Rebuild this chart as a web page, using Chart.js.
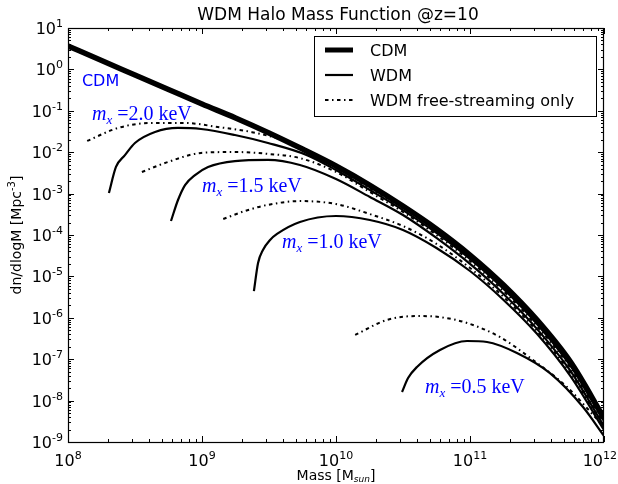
<!DOCTYPE html>
<html>
<head>
<meta charset="utf-8">
<script src="https://cdn.jsdelivr.net/npm/chart.js@4.4.0/dist/chart.umd.min.js"></script>
<style>
  html, body { margin: 0; padding: 0; background: #fff; }
  #wrap { width: 618px; height: 484px; }
</style>
</head>
<body>
<div id="wrap"><canvas id="hmf"></canvas></div>
<script>
// halo mass function values (mass in Msun, dn/dlogM in Mpc^-3)
const massCDM = [1e8, 1.78e8, 3.16e8, 5.62e8, 1e9, 1.78e9, 3.16e9, 5.62e9, 1e10, 1.78e10, 3.16e10, 5.62e10, 1e11, 1.78e11, 3.16e11, 5.62e11, 1e12];
const cdm = [3.67, 1.64, 0.733, 0.327, 0.146, 0.067, 0.0291, 0.0119, 4.65e-3, 1.61e-3, 5.0e-4, 1.40e-4, 3.29e-5, 6.2e-6, 8.9e-7, 8.6e-8, 3.8e-9];

const mass20 = [2.02e8, 2.28e8, 2.66e8, 3.16e8, 4.46e8, 6.62e8, 9.84e8, 1.76e9, 3.11e9, 6.08e9, 1e10, 1.79e10, 3.16e10, 5.62e10, 1e11, 1.78e11, 3.16e11, 5.62e11, 1e12];
const wdm20 = [1.03e-3, 4.4e-3, 8.5e-3, 0.0167, 0.0308, 0.0385, 0.0363, 0.026, 0.0167, 8.5e-3, 3.7e-3, 1.22e-3, 4.0e-4, 1.12e-4, 2.63e-5, 4.97e-6, 7.1e-7, 6.9e-8, 3.2e-9];
const massFs20 = [1.39e8, 2.36e8, 4.16e8, 7.5e8, 1.31e9, 2.32e9, 4.16e9, 6.08e9, 1e10, 1.79e10, 3.16e10, 5.62e10, 1e11, 1.78e11, 3.16e11, 5.62e11, 1e12];
const fs20 = [0.0187, 0.0385, 0.0507, 0.0507, 0.0407, 0.0308, 0.0187, 0.0101, 4.15e-3, 1.36e-3, 4.5e-4, 1.25e-4, 2.94e-5, 5.5e-6, 7.9e-7, 7.7e-8, 3.6e-9];

const mass15 = [5.87e8, 6.62e8, 7.47e8, 8.87e8, 1.11e9, 1.76e9, 3.11e9, 5.38e9, 1e10, 1.79e10, 3.16e10, 5.62e10, 1e11, 1.78e11, 3.16e11, 5.62e11, 1e12];
const wdm15 = [2.18e-4, 7.0e-4, 1.61e-3, 2.81e-3, 4.4e-3, 6.1e-3, 6.5e-3, 4.9e-3, 2.25e-3, 8.3e-4, 3.04e-4, 8.5e-5, 2.0e-5, 3.76e-6, 5.4e-7, 5.2e-8, 2.4e-9];
const massFs15 = [3.56e8, 5.57e8, 9.84e8, 1.76e9, 3.11e9, 5.38e9, 1e10, 1.79e10, 3.16e10, 5.62e10, 1e11, 1.78e11, 3.16e11, 5.62e11, 1e12];
const fs15 = [3.33e-3, 5.8e-3, 9.6e-3, 0.0101, 9.1e-3, 7.2e-3, 3.33e-3, 1.09e-3, 3.6e-4, 1.0e-4, 2.35e-5, 4.4e-6, 6.3e-7, 6.1e-8, 2.7e-9];

const mass10 = [2.44e9, 2.62e9, 2.85e9, 3.22e9, 3.63e9, 5.38e9, 1e10, 1.79e10, 3.16e10, 5.62e10, 1e11, 1.78e11, 3.16e11, 5.62e11, 1e12];
const wdm10 = [4.4e-6, 2.11e-5, 4.35e-5, 7.6e-5, 1.06e-4, 2.06e-4, 2.88e-4, 2.3e-4, 1.32e-4, 4.85e-5, 1.35e-5, 2.7e-6, 4.1e-7, 3.9e-8, 1.95e-9];
const massFs10 = [1.44e9, 2.09e9, 3.06e9, 5.38e9, 1e10, 1.79e10, 3.16e10, 5.62e10, 1e11, 1.78e11, 3.16e11, 5.62e11, 1e12];
const fs10 = [2.43e-4, 3.8e-4, 5.3e-4, 6.6e-4, 5.6e-4, 3.2e-4, 1.65e-4, 6.1e-5, 1.6e-5, 3.2e-6, 4.8e-7, 4.6e-8, 2.2e-9];

const mass05 = [3.11e10, 3.45e10, 4.02e10, 5.97e10, 9.5e10, 1.34e11, 2.24e11, 3.95e11, 6.97e11, 1e12];
const wdm05 = [1.61e-8, 3.5e-8, 6.5e-8, 1.67e-7, 2.75e-7, 2.6e-7, 1.41e-7, 4.6e-8, 7.0e-9, 1.4e-9];
const massFs05 = [1.39e10, 2.4e10, 4.02e10, 5.97e10, 9.5e10, 1.68e11, 2.95e11, 5.3e11, 8.3e11, 1e12];
const fs05 = [3.85e-7, 8.9e-7, 1.1e-6, 1.04e-6, 7.5e-7, 3.4e-7, 9.6e-8, 2.13e-8, 4.5e-9, 2.3e-9];

// tick labels: base "10" with these exponents
const xTicks = [1e8, 1e9, 1e10, 1e11, 1e12];
const xTickExp = ['8', '9', '10', '11', '12'];
const yTicks = [1e-9, 1e-8, 1e-7, 1e-6, 1e-5, 1e-4, 1e-3, 1e-2, 1e-1, 1e0, 1e1];
const yTickExp = ['-9', '-8', '-7', '-6', '-5', '-4', '-3', '-2', '-1', '0', '1'];

const legendNames = ['CDM', 'WDM', 'WDM free-streaming only'];
const massLabels = ['2.0', '1.5', '1.0', '0.5'];

const SANS = '"DejaVu Sans", sans-serif';
const DASH = [3.5, 3.5, 1.5, 3.5];

const pts = (xs, ys) => xs.map((m, i) => ({ x: m, y: ys[i] }));

function curve(xs, ys, width, dash) {
  return {
    data: pts(xs, ys),
    showLine: true,
    borderColor: '#000',
    borderWidth: width,
    borderDash: dash || [],
    pointRadius: 0,
    cubicInterpolationMode: 'monotone',
  };
}

// text labels placed in data coordinates: [mass, dn/dlogM]
const labelSpots = [[1.51e8, 0.060], [1e9, 1.09e-3], [3.95e9, 4.85e-5], [4.61e10, 1.53e-8]];
const cdmSpot = [1.27e8, 0.397];

function drawMx(ctx, keV, px, py) {
  ctx.fillStyle = '#0000ff';
  ctx.textAlign = 'left';
  ctx.textBaseline = 'alphabetic';
  ctx.font = 'italic 20px "Liberation Serif", serif';
  ctx.fillText('m', px, py);
  let w = ctx.measureText('m').width;
  ctx.font = 'italic 13px "Liberation Serif", serif';
  ctx.fillText('x', px + w, py + 4);
  w += ctx.measureText('x').width + 5;
  ctx.font = '20px "Liberation Serif", serif';
  ctx.fillText('=' + keV + ' keV', px + w, py);
}

function powerLabel(ctx, exp, cx, baseY, align) {
  ctx.font = '16px ' + SANS;
  const wb = ctx.measureText('10').width;
  ctx.font = '11px ' + SANS;
  const we = ctx.measureText(exp).width;
  const tw = wb + we;
  let left = align === 'right' ? cx - tw : cx - tw / 2;
  if (left + tw > 617) left = 617 - tw;
  ctx.font = '16px ' + SANS;
  ctx.fillText('10', left, baseY);
  ctx.font = '11px ' + SANS;
  ctx.fillText(exp, left + wb, baseY - 7);
}

const decor = {
  id: 'decor',
  afterDatasetsDraw(chart) {
    const { ctx, chartArea: a, scales: { x, y } } = chart;
    ctx.save();
    ctx.strokeStyle = '#000';
    ctx.lineWidth = 1;
    ctx.setLineDash([]);
    ctx.beginPath();
    // inward ticks on all four sides
    for (let d = 8; d <= 12; d++) {
      for (let k = 1; k <= 9; k++) {
        const v = k * Math.pow(10, d);
        if (v > 1e12 * 1.001) continue;
        const p = Math.round(x.getPixelForValue(v)) + 0.5;
        const len = k === 1 ? 6 : 3;
        ctx.moveTo(p, a.bottom); ctx.lineTo(p, a.bottom - len);
        ctx.moveTo(p, a.top); ctx.lineTo(p, a.top + len);
      }
    }
    for (let d = -9; d <= 1; d++) {
      for (let k = 1; k <= 9; k++) {
        const v = k * Math.pow(10, d);
        if (v > 10 * 1.001) continue;
        const p = Math.round(y.getPixelForValue(v)) + 0.5;
        const len = k === 1 ? 6 : 3;
        ctx.moveTo(a.left, p); ctx.lineTo(a.left + len, p);
        ctx.moveTo(a.right, p); ctx.lineTo(a.right - len, p);
      }
    }
    ctx.stroke();
    ctx.lineWidth = 1.2;
    ctx.strokeRect(Math.round(a.left) + 0.5, Math.round(a.top) + 0.5,
      Math.round(a.right - a.left) - 1, Math.round(a.bottom - a.top));

    // tick labels
    ctx.fillStyle = '#000';
    ctx.textBaseline = 'alphabetic';
    ctx.textAlign = 'left';
    xTicks.forEach((v, i) => powerLabel(ctx, xTickExp[i], x.getPixelForValue(v), a.bottom + 24, 'center'));
    yTicks.forEach((v, i) => powerLabel(ctx, yTickExp[i], a.left - 5, y.getPixelForValue(v) + 6, 'right'));

    // annotations
    ctx.fillStyle = '#0000ff';
    ctx.font = '16px ' + SANS;
    ctx.fillText('CDM', x.getPixelForValue(cdmSpot[0]), y.getPixelForValue(cdmSpot[1]));
    labelSpots.forEach((s, i) => {
      drawMx(ctx, massLabels[i], x.getPixelForValue(s[0]), y.getPixelForValue(s[1]));
    });

    // legend box
    const lx = 314, ly = 36, lw = 282, lh = 80;
    ctx.fillStyle = '#fff';
    ctx.fillRect(lx, ly, lw, lh);
    ctx.strokeStyle = '#000';
    ctx.lineWidth = 1;
    ctx.strokeRect(lx + 0.5, ly + 0.5, lw, lh);
    const widths = [5, 2.2, 2];
    const dashes = [[], [], DASH];
    legendNames.forEach((name, i) => {
      const yy = ly + 14 + i * 25;
      ctx.beginPath();
      ctx.lineWidth = widths[i];
      ctx.setLineDash(dashes[i]);
      ctx.moveTo(325, yy);
      ctx.lineTo(353, yy);
      ctx.stroke();
      ctx.setLineDash([]);
      ctx.fillStyle = '#000';
      ctx.font = '16px ' + SANS;
      ctx.fillText(name, 370, yy + 6);
    });

    // title and axis titles
    ctx.fillStyle = '#000';
    ctx.font = '17px ' + SANS;
    ctx.textAlign = 'center';
    ctx.fillText('WDM Halo Mass Function @z=10', 338, 20);

    ctx.textAlign = 'left';
    const t1 = 'Mass [M', t2 = 'sun', t3 = ']';
    ctx.font = '14px ' + SANS;
    const w1 = ctx.measureText(t1).width;
    ctx.font = 'italic 9px ' + SANS;
    const w2 = ctx.measureText(t2).width;
    ctx.font = '14px ' + SANS;
    const w3 = ctx.measureText(t3).width;
    let sx = 336 - (w1 + w2 + w3) / 2;
    ctx.fillText(t1, sx, 480);
    ctx.font = 'italic 9px ' + SANS;
    ctx.fillText(t2, sx + w1, 482);
    ctx.font = '14px ' + SANS;
    ctx.fillText(t3, sx + w1 + w2, 480);

    ctx.translate(21, 235);
    ctx.rotate(-Math.PI / 2);
    const u1 = 'dn/dlogM [Mpc', u2 = '-3', u3 = ']';
    ctx.font = '14px ' + SANS;
    const v1 = ctx.measureText(u1).width;
    ctx.font = '10px ' + SANS;
    const v2 = ctx.measureText(u2).width;
    ctx.font = '14px ' + SANS;
    const v3 = ctx.measureText(u3).width;
    sx = -(v1 + v2 + v3) / 2;
    ctx.fillText(u1, sx, 0);
    ctx.font = '10px ' + SANS;
    ctx.fillText(u2, sx + v1, -6);
    ctx.font = '14px ' + SANS;
    ctx.fillText(u3, sx + v1 + v2, 0);
    ctx.restore();
  }
};

new Chart(document.getElementById('hmf'), {
  type: 'scatter',
  data: {
    datasets: [
      curve(massCDM, cdm, 5.5),
      curve(mass20, wdm20, 2.2),
      curve(mass15, wdm15, 2.2),
      curve(mass10, wdm10, 2.2),
      curve(mass05, wdm05, 2.2),
      curve(massFs20, fs20, 2, DASH),
      curve(massFs15, fs15, 2, DASH),
      curve(massFs10, fs10, 2, DASH),
      curve(massFs05, fs05, 2, DASH),
    ],
  },
  options: {
    responsive: true,
    maintainAspectRatio: false,
    animation: false,
    layout: { padding: { top: 28, right: 14, left: 0, bottom: 0 } },
    plugins: { legend: { display: false }, tooltip: { enabled: false }, title: { display: false } },
    scales: {
      x: {
        type: 'logarithmic',
        min: 1e8,
        max: 1e12,
        grid: { display: false, drawTicks: false },
        border: { display: false },
        afterBuildTicks: (s) => { s.ticks = xTicks.map(v => ({ value: v })); },
        afterFit: (s) => { s.height = 42; s.paddingLeft = 0; s.paddingRight = 0; },
        ticks: { display: false },
      },
      y: {
        type: 'logarithmic',
        min: 1e-9,
        max: 10,
        grid: { display: false, drawTicks: false },
        border: { display: false },
        afterBuildTicks: (s) => { s.ticks = yTicks.map(v => ({ value: v })); },
        afterFit: (s) => { s.width = 68; s.paddingTop = 0; s.paddingBottom = 0; },
        ticks: { display: false },
      },
    },
  },
  plugins: [decor],
});
</script>
</body>
</html>
